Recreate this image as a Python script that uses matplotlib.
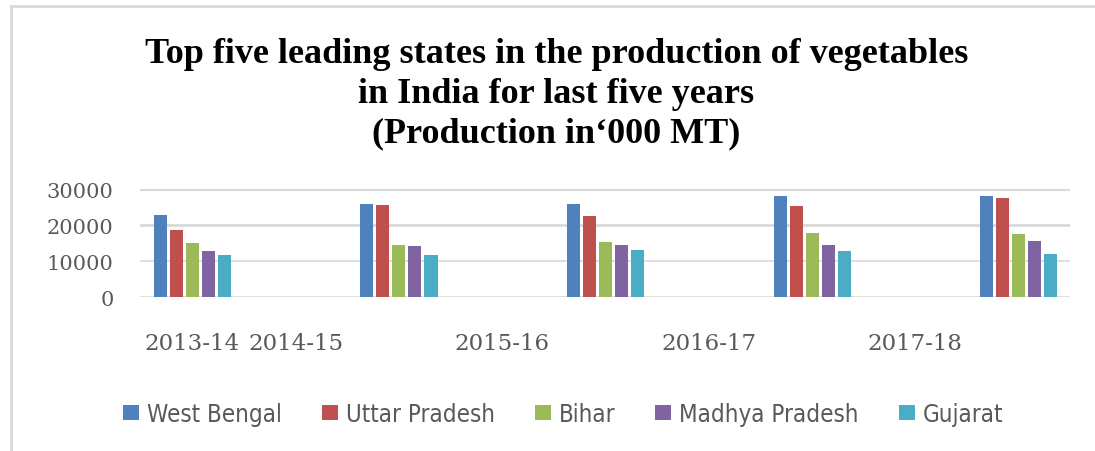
import matplotlib
matplotlib.use("Agg")
import matplotlib.pyplot as plt
from matplotlib import font_manager as fm
from matplotlib.patches import Patch
from matplotlib.lines import Line2D
import numpy as np

# ---------------- data ----------------
years = ["2013-14", "2014-15", "2015-16", "2016-17", "2017-18"]
states = ["West Bengal", "Uttar Pradesh", "Bihar", "Madhya Pradesh", "Gujarat"]
west_bengal = [22900, 25900, 25900, 28100, 28100]
uttar_pradesh = [18700, 25600, 22600, 25400, 27600]
bihar = [15100, 14500, 15400, 17900, 17600]
madhya_pradesh = [12900, 14300, 14500, 14500, 15600]
gujarat = [11750, 11750, 13100, 12900, 12000]
yticks = [0, 10000, 20000, 30000]
title_lines = ["Top five leading states in the production of vegetables",
               "in India for last five years",
               "(Production in\u2018000 MT)"]

series = [west_bengal, uttar_pradesh, bihar, madhya_pradesh, gujarat]
colors = ["#4f81bd", "#c0504d", "#9bbb59", "#8064a2", "#4bacc6"]

W, H = 1095, 452
fig = plt.figure(figsize=(W / 100, H / 100), dpi=100)

# axes placement (pixels -> figure fraction)
left_px, right_px = 140, 1070
bottom_px, top_px = 298.3, 190
ax = fig.add_axes([left_px / W, 1 - bottom_px / H,
                   (right_px - left_px) / W, (bottom_px - top_px) / H])

x = np.arange(len(years))
step = 0.0775
bw = 0.063
for i, (vals, c, name) in enumerate(zip(series, colors, states)):
    ax.bar(x + (i - 2) * step, vals, width=bw, color=c, label=name, zorder=3)

ax.set_xlim(-0.254, 4.249)
ax.set_ylim(0, 30000)

# gridlines
grid_w = [1.2, 1.2, 2.0, 3.0]
for yv, lw in zip(yticks, grid_w):
    ax.axhline(yv, color="#d9d9d9", lw=lw, zorder=1)

for s in ax.spines.values():
    s.set_visible(False)

gray = "#595959"
ax.set_yticks(yticks)
ax.set_yticklabels([str(v) for v in yticks], family="DejaVu Serif",
                   fontsize=15, color=gray)
ax.tick_params(axis="y", length=0, pad=19)

# category labels (Excel-like shifted positions)
label_pos = [0] + [i - 0.5 for i in range(1, len(years))]
ax.set_xticks(label_pos)
ax.set_xticklabels(years, family="DejaVu Serif", fontsize=16.5, color=gray)
ax.tick_params(axis="x", length=0, pad=25)

# title
title_baselines = [63, 103, 142]
for txt, yb in zip(title_lines, title_baselines):
    fig.text(556.5 / W, 1 - yb / H, txt, ha="center", va="baseline",
             family="Liberation Serif", fontweight="bold", fontsize=26,
             color="black")

# legend
fp = fm.FontProperties(family="DejaVu Sans", stretch="condensed")
path = fm.findfont(fp, fallback_to_default=True)
if "Condensed" in path:
    leg_size = 17.3
    leg_prop = fm.FontProperties(fname=path, size=leg_size)
else:
    leg_size = 15.5
    leg_prop = fm.FontProperties(family="DejaVu Sans", size=leg_size)
handles = [Patch(facecolor=c, edgecolor="none") for c in colors]
px = leg_size * 100 / 72
leg = fig.legend(handles, states, loc="center", ncol=5,
                 bbox_to_anchor=(563 / W, 1 - 415 / H), frameon=False,
                 prop=leg_prop, handlelength=16 / px, handleheight=14 / px,
                 handletextpad=8 / px, columnspacing=40 / px,
                 borderaxespad=0, borderpad=0)
for t in leg.get_texts():
    t.set_color(gray)

# outer frame lines (light gray)
fig.add_artist(Line2D([11 / W, 11 / W], [0, 1 - 7 / H], transform=fig.transFigure,
                      color="#d9d9d9", lw=2))
fig.add_artist(Line2D([11 / W, 1], [1 - 7 / H, 1 - 7 / H], transform=fig.transFigure,
                      color="#d9d9d9", lw=2))

fig.savefig("out.png", dpi=100)
